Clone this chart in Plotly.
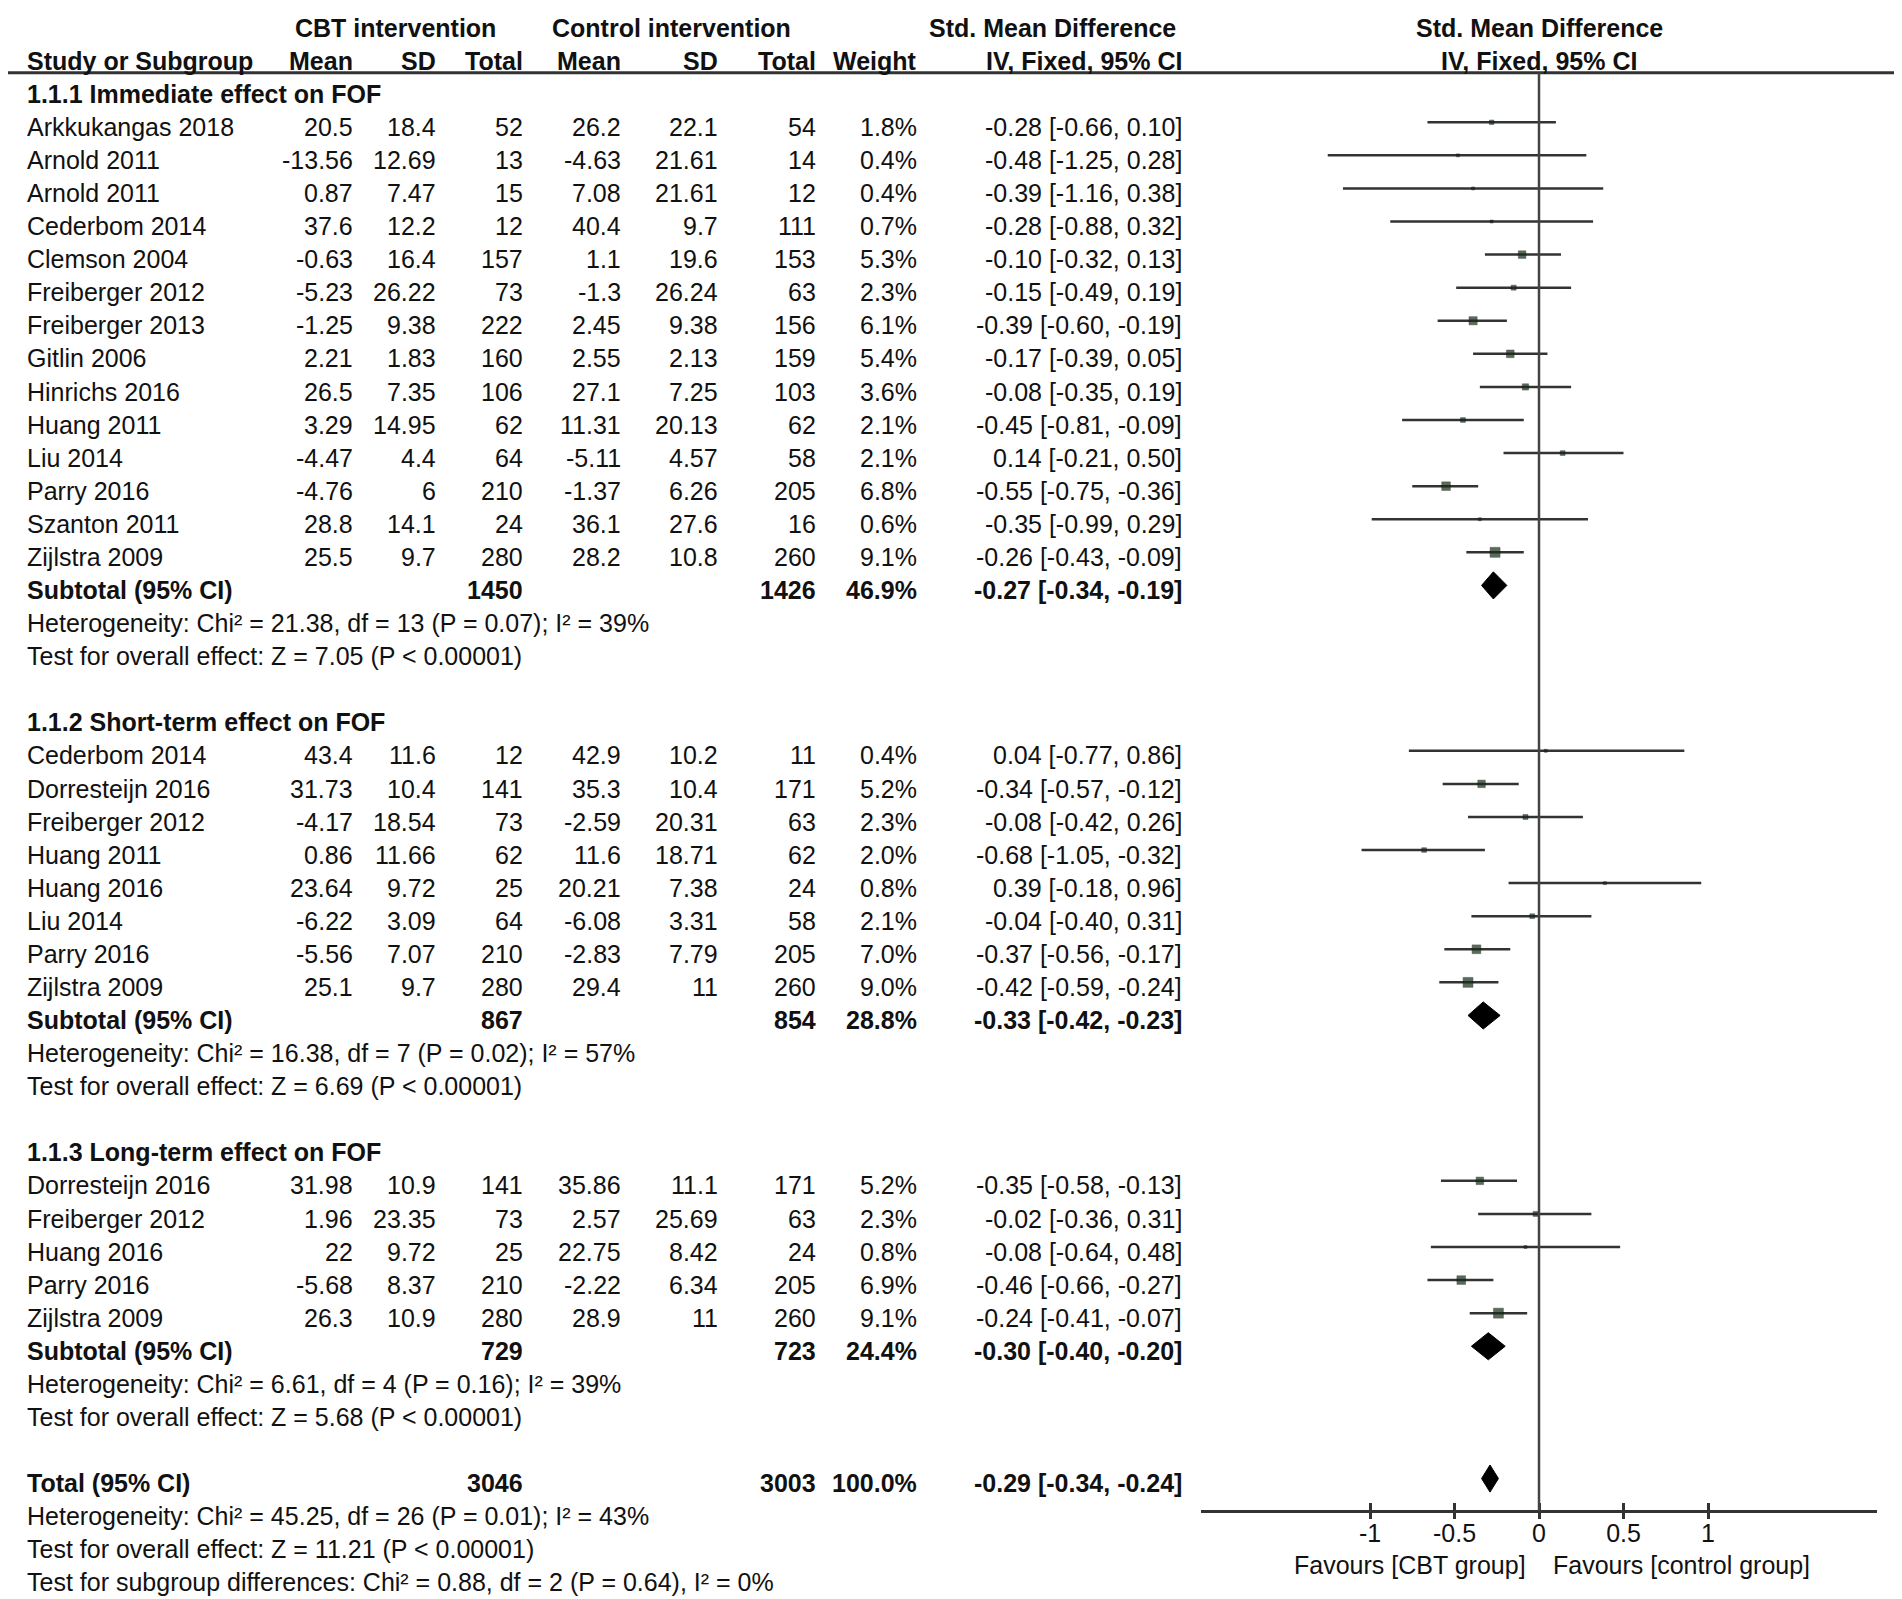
import math
import plotly.graph_objects as go

# The page body has an 8 px margin, so the figure is laid out in screen pixels and shifted.
SCREEN_W, SCREEN_H = 1902, 1599
OFF = 8
W, H = SCREEN_W - OFF, SCREEN_H - OFF
ROW0, ROWH = 89.2, 33.08          # screen pixel centre of row 0 and row pitch
TEXT_DY = 0.14                    # text sits slightly below the marks
FONT = "Liberation Sans, Arial, sans-serif"
FS = 25
TXT = "#111111"

# ---------------- data ----------------
group_titles = ["1.1.1 Immediate effect on FOF",
                "1.1.2 Short-term effect on FOF",
                "1.1.3 Long-term effect on FOF"]

study = ["Arkkukangas 2018", "Arnold 2011", "Arnold 2011", "Cederbom 2014", "Clemson 2004",
         "Freiberger 2012", "Freiberger 2013", "Gitlin 2006", "Hinrichs 2016", "Huang 2011",
         "Liu 2014", "Parry 2016", "Szanton 2011", "Zijlstra 2009",
         "Cederbom 2014", "Dorresteijn 2016", "Freiberger 2012", "Huang 2011", "Huang 2016",
         "Liu 2014", "Parry 2016", "Zijlstra 2009",
         "Dorresteijn 2016", "Freiberger 2012", "Huang 2016", "Parry 2016", "Zijlstra 2009"]
group = [0] * 14 + [1] * 8 + [2] * 5

cbt_mean = ["20.5", "-13.56", "0.87", "37.6", "-0.63", "-5.23", "-1.25", "2.21", "26.5", "3.29",
            "-4.47", "-4.76", "28.8", "25.5",
            "43.4", "31.73", "-4.17", "0.86", "23.64", "-6.22", "-5.56", "25.1",
            "31.98", "1.96", "22", "-5.68", "26.3"]
cbt_sd = ["18.4", "12.69", "7.47", "12.2", "16.4", "26.22", "9.38", "1.83", "7.35", "14.95",
          "4.4", "6", "14.1", "9.7",
          "11.6", "10.4", "18.54", "11.66", "9.72", "3.09", "7.07", "9.7",
          "10.9", "23.35", "9.72", "8.37", "10.9"]
cbt_n = [52, 13, 15, 12, 157, 73, 222, 160, 106, 62, 64, 210, 24, 280,
         12, 141, 73, 62, 25, 64, 210, 280,
         141, 73, 25, 210, 280]
ctl_mean = ["26.2", "-4.63", "7.08", "40.4", "1.1", "-1.3", "2.45", "2.55", "27.1", "11.31",
            "-5.11", "-1.37", "36.1", "28.2",
            "42.9", "35.3", "-2.59", "11.6", "20.21", "-6.08", "-2.83", "29.4",
            "35.86", "2.57", "22.75", "-2.22", "28.9"]
ctl_sd = ["22.1", "21.61", "21.61", "9.7", "19.6", "26.24", "9.38", "2.13", "7.25", "20.13",
          "4.57", "6.26", "27.6", "10.8",
          "10.2", "10.4", "20.31", "18.71", "7.38", "3.31", "7.79", "11",
          "11.1", "25.69", "8.42", "6.34", "11"]
ctl_n = [54, 14, 12, 111, 153, 63, 156, 159, 103, 62, 58, 205, 16, 260,
         11, 171, 63, 62, 24, 58, 205, 260,
         171, 63, 24, 205, 260]
weight = [1.8, 0.4, 0.4, 0.7, 5.3, 2.3, 6.1, 5.4, 3.6, 2.1, 2.1, 6.8, 0.6, 9.1,
          0.4, 5.2, 2.3, 2.0, 0.8, 2.1, 7.0, 9.0,
          5.2, 2.3, 0.8, 6.9, 9.1]
smd = [-0.28, -0.48, -0.39, -0.28, -0.10, -0.15, -0.39, -0.17, -0.08, -0.45, 0.14, -0.55, -0.35, -0.26,
       0.04, -0.34, -0.08, -0.68, 0.39, -0.04, -0.37, -0.42,
       -0.35, -0.02, -0.08, -0.46, -0.24]
ci_lo = [-0.66, -1.25, -1.16, -0.88, -0.32, -0.49, -0.60, -0.39, -0.35, -0.81, -0.21, -0.75, -0.99, -0.43,
         -0.77, -0.57, -0.42, -1.05, -0.18, -0.40, -0.56, -0.59,
         -0.58, -0.36, -0.64, -0.66, -0.41]
ci_hi = [0.10, 0.28, 0.38, 0.32, 0.13, 0.19, -0.19, 0.05, 0.19, -0.09, 0.50, -0.36, 0.29, -0.09,
         0.86, -0.12, 0.26, -0.32, 0.96, 0.31, -0.17, -0.24,
         -0.13, 0.31, 0.48, -0.27, -0.07]

sub_cbt_n = [1450, 867, 729]
sub_ctl_n = [1426, 854, 723]
sub_weight = [46.9, 28.8, 24.4]
sub_smd = [-0.27, -0.33, -0.30]
sub_lo = [-0.34, -0.42, -0.40]
sub_hi = [-0.19, -0.23, -0.20]
sub_het = ["Heterogeneity: Chi\u00b2 = 21.38, df = 13 (P = 0.07); I\u00b2 = 39%",
           "Heterogeneity: Chi\u00b2 = 16.38, df = 7 (P = 0.02); I\u00b2 = 57%",
           "Heterogeneity: Chi\u00b2 = 6.61, df = 4 (P = 0.16); I\u00b2 = 39%"]
sub_test = ["Test for overall effect: Z = 7.05 (P < 0.00001)",
            "Test for overall effect: Z = 6.69 (P < 0.00001)",
            "Test for overall effect: Z = 5.68 (P < 0.00001)"]

tot_cbt_n, tot_ctl_n, tot_weight = 3046, 3003, 100.0
tot_smd, tot_lo, tot_hi = -0.29, -0.34, -0.24
tot_notes = ["Heterogeneity: Chi\u00b2 = 45.25, df = 26 (P = 0.01); I\u00b2 = 43%",
             "Test for overall effect: Z = 11.21 (P < 0.00001)",
             "Test for subgroup differences: Chi\u00b2 = 0.88, df = 2 (P = 0.64), I\u00b2 = 0%"]

tick_vals = [-1, -0.5, 0, 0.5, 1]
tick_text = ["-1", "-0.5", "0", "0.5", "1"]
favours = ["Favours [CBT group]", "Favours [control group]"]

# ---------------- layout helpers ----------------
COL = dict(name=25, cm=355, csd=438, cn=525, km=623, ksd=720, kn=818, w=919, ci=1184)

def px(x):                       # screen x -> paper fraction
    return (x - OFF) / W

def row_of(pix):                 # screen y -> row coordinate
    return (pix - ROW0) / ROWH

ann = []

def txt(x, row, s, anchor="right", bold=False):
    ann.append(dict(x=px(x), xref="paper", y=row + TEXT_DY, yref="y",
                    text=(f"<b>{s}</b>" if bold else s),
                    showarrow=False, xanchor=anchor, yanchor="middle",
                    font=dict(family=FONT, size=FS, color=TXT)))

def ci_str(e, lo, hi):
    return f"{e:.2f} [{lo:.2f}, {hi:.2f}]"

# header
txt(395, -2, "CBT intervention", "center", True)
txt(671, -2, "Control intervention", "center", True)
txt(1052, -2, "Std. Mean Difference", "center", True)
txt(COL["name"], -1, "Study or Subgroup", "left", True)
for key, lab in [("cm", "Mean"), ("csd", "SD"), ("cn", "Total"), ("km", "Mean"), ("ksd", "SD"),
                 ("kn", "Total"), ("w", "Weight"), ("ci", "IV, Fixed, 95% CI")]:
    txt(COL[key], -1, lab, "right", True)

line_x, line_y, sq_x, sq_y, sq_s = [], [], [], [], []
diamonds = []
row = 0
for g in range(3):
    txt(COL["name"], row, group_titles[g], "left", True)
    row += 1
    for i in range(len(study)):
        if group[i] != g:
            continue
        txt(COL["name"], row, study[i], "left")
        txt(COL["cm"], row, cbt_mean[i])
        txt(COL["csd"], row, cbt_sd[i])
        txt(COL["cn"], row, str(cbt_n[i]))
        txt(COL["km"], row, ctl_mean[i])
        txt(COL["ksd"], row, ctl_sd[i])
        txt(COL["kn"], row, str(ctl_n[i]))
        txt(COL["w"], row, f"{weight[i]:.1f}%")
        txt(COL["ci"], row, ci_str(smd[i], ci_lo[i], ci_hi[i]))
        line_x += [ci_lo[i], ci_hi[i], None]
        line_y += [row, row, None]
        sq_x.append(smd[i]); sq_y.append(row)
        sq_s.append(max(3.0, 3.3 * math.sqrt(weight[i])))
        row += 1
    txt(COL["name"], row, "Subtotal (95% CI)", "left", True)
    txt(COL["cn"], row, str(sub_cbt_n[g]), bold=True)
    txt(COL["kn"], row, str(sub_ctl_n[g]), bold=True)
    txt(COL["w"], row, f"{sub_weight[g]:.1f}%", bold=True)
    txt(COL["ci"], row, ci_str(sub_smd[g], sub_lo[g], sub_hi[g]), bold=True)
    diamonds.append((sub_lo[g], sub_smd[g], sub_hi[g], row))
    row += 1
    txt(COL["name"], row, sub_het[g], "left"); row += 1
    txt(COL["name"], row, sub_test[g], "left"); row += 1
    row += 1

txt(COL["name"], row, "Total (95% CI)", "left", True)
txt(COL["cn"], row, str(tot_cbt_n), bold=True)
txt(COL["kn"], row, str(tot_ctl_n), bold=True)
txt(COL["w"], row, f"{tot_weight:.1f}%", bold=True)
txt(COL["ci"], row, ci_str(tot_smd, tot_lo, tot_hi), bold=True)
diamonds.append((tot_lo, tot_smd, tot_hi, row))
row += 1
for s in tot_notes:
    txt(COL["name"], row, s, "left"); row += 1

AXIS_PX = 1510.7

for r, s in [(-2, "Std. Mean Difference"), (-1, "IV, Fixed, 95% CI")]:
    ann.append(dict(x=0, xref="x", y=r + TEXT_DY, yref="y", text=f"<b>{s}</b>", showarrow=False,
                    xanchor="center", yanchor="middle", font=dict(family=FONT, size=FS, color=TXT)))
fav_row = row_of(1565)
ann.append(dict(x=0, xref="x", y=fav_row, yref="y", text=favours[0], showarrow=False, xanchor="right",
                xshift=-11, yanchor="middle", font=dict(family=FONT, size=FS, color=TXT)))
ann.append(dict(x=0, xref="x", y=fav_row, yref="y", text=favours[1], showarrow=False, xanchor="left",
                xshift=12, yanchor="middle", font=dict(family=FONT, size=FS, color=TXT)))

fig = go.Figure()
fig.add_trace(go.Scatter(x=line_x, y=line_y, mode="lines", line=dict(color="#333333", width=2.5),
                         hoverinfo="skip", showlegend=False))
fig.add_trace(go.Scatter(x=sq_x, y=sq_y, mode="markers",
                         marker=dict(symbol="square", size=sq_s, color="#142e16",
                                     line=dict(color="#0a0a0a", width=0.5)),
                         showlegend=False))
DH = 0.41
for lo, e, hi, r in diamonds:
    fig.add_trace(go.Scatter(x=[lo, e, hi, e, lo], y=[r, r - DH, r, r + DH, r], mode="lines",
                             fill="toself", fillcolor="#000000", line=dict(color="#000000", width=1),
                             showlegend=False, hoverinfo="skip"))
# invisible trace on the overlay axis (inside ticks + labels)
fig.add_trace(go.Scatter(x=[0], y=[0], xaxis="x2", mode="markers", marker=dict(opacity=0),
                         showlegend=False, hoverinfo="skip"))

x0_px, x1_px = 1201.0, 1877.0
axis_pos = (SCREEN_H - AXIS_PX) / H
common = dict(domain=[px(x0_px), px(x1_px)], range=[-2, 2], anchor="free", position=axis_pos,
              showgrid=False, zeroline=False, tickvals=tick_vals, ticktext=tick_text,
              tickcolor="#333333", tickwidth=2.5, ticklen=7,
              showline=True, linecolor="#333333", linewidth=2.5,
              tickfont=dict(family=FONT, size=FS, color=TXT))
fig.update_layout(
    width=W, height=H, margin=dict(l=0, r=0, t=0, b=0),
    paper_bgcolor="white", plot_bgcolor="rgba(0,0,0,0)",
    xaxis=dict(**common, ticks="outside", showticklabels=False),
    xaxis2=dict(**common, ticks="inside", overlaying="x", showticklabels=True),
    yaxis=dict(domain=[0, 1], range=[row_of(SCREEN_H), row_of(OFF)], visible=False, fixedrange=True),
    annotations=ann,
    shapes=[
        dict(type="line", xref="paper", yref="y", x0=px(6), x1=px(1897), y0=-0.5, y1=-0.5,
             line=dict(color="#333333", width=3)),
        dict(type="line", xref="x", yref="y", x0=0, x1=0, y0=-0.5, y1=row_of(AXIS_PX),
             line=dict(color="#444444", width=2.5)),
    ],
)
fig.write_html("out.html")
